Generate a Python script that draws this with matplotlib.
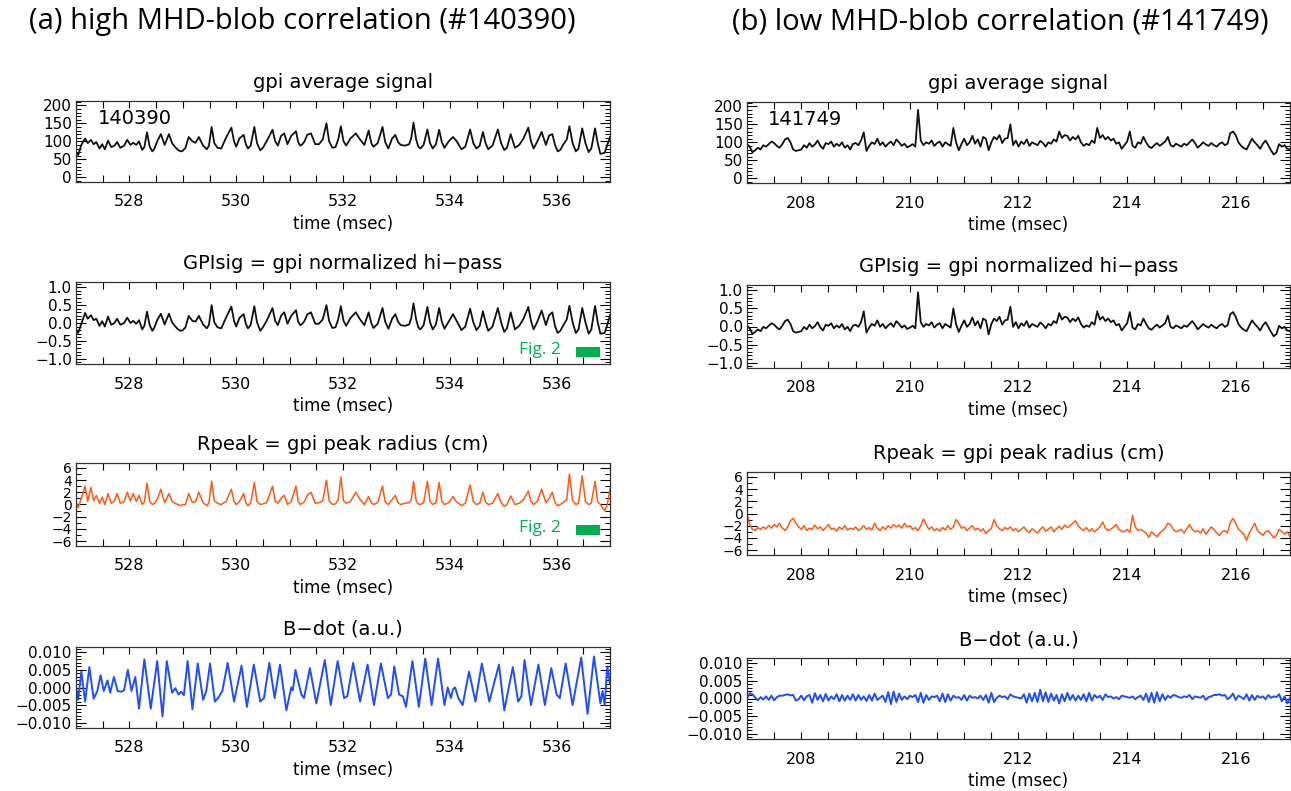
import numpy as np
import matplotlib.pyplot as plt
from matplotlib.ticker import MultipleLocator, FuncFormatter
from matplotlib.patches import Rectangle

# ---- (a) shot 140390, 527-537 ms, vertices ----
t_a = [527.00, 527.04, 527.10, 527.17, 527.22, 527.28, 527.33, 527.38, 527.44, 527.49,
       527.54, 527.60, 527.66, 527.72, 527.77, 527.83, 527.90, 527.96, 528.02, 528.07,
       528.13, 528.18, 528.24, 528.28, 528.33, 528.38, 528.43, 528.47, 528.52, 528.59,
       528.66, 528.74, 528.80, 528.85, 528.91, 528.96, 529.00, 529.05, 529.11, 529.18,
       529.24, 529.30, 529.38, 529.45, 529.49, 529.54, 529.59, 529.65, 529.72, 529.81,
       529.91, 529.96, 530.00, 530.06, 530.14, 530.18, 530.22, 530.27, 530.34, 530.39,
       530.45, 530.50, 530.57, 530.68, 530.73, 530.78, 530.84, 530.90, 530.96, 531.03,
       531.12, 531.16, 531.20, 531.24, 531.28, 531.33, 531.40, 531.48, 531.55, 531.62,
       531.69, 531.74, 531.80, 531.86, 531.91, 531.96, 532.01, 532.06, 532.14, 532.24,
       532.32, 532.40, 532.48, 532.53, 532.57, 532.65, 532.74, 532.79, 532.85, 532.92,
       532.98, 533.03, 533.08, 533.16, 533.24, 533.28, 533.32, 533.37, 533.41, 533.45,
       533.51, 533.58, 533.63, 533.68, 533.74, 533.80, 533.85, 533.90, 533.98, 534.06,
       534.12, 534.22, 534.29, 534.38, 534.44, 534.50, 534.56, 534.62, 534.67, 534.72,
       534.80, 534.90, 534.96, 535.02, 535.07, 535.14, 535.22, 535.30, 535.38, 535.47,
       535.52, 535.57, 535.64, 535.72, 535.80, 535.86, 535.92, 535.97, 536.02, 536.07,
       536.12, 536.19, 536.24, 536.30, 536.36, 536.41, 536.48, 536.54, 536.60, 536.65,
       536.72, 536.77, 536.82, 536.90, 536.95, 537.00]
gpi_a = [70, 62, 90, 108, 95, 104, 92, 98, 80, 92,
         78, 102, 84, 88, 98, 82, 88, 104, 90, 96,
         90, 100, 76, 84, 125, 85, 72, 80, 100, 120,
         90, 120, 95, 85, 76, 72, 74, 82, 112, 100,
         96, 112, 88, 78, 88, 140, 95, 82, 80, 110,
         138, 100, 85, 108, 118, 92, 80, 88, 140, 95,
         75, 82, 100, 132, 100, 88, 115, 122, 92, 115,
         128, 98, 88, 92, 100, 118, 122, 92, 92, 105,
         150, 100, 82, 84, 105, 142, 100, 88, 108, 122,
         105, 90, 130, 95, 85, 95, 140, 98, 80, 108,
         118, 98, 90, 88, 92, 110, 152, 105, 85, 80,
         90, 133, 95, 80, 92, 132, 98, 82, 100, 112,
         102, 78, 85, 133, 95, 80, 88, 126, 95, 78,
         88, 133, 95, 76, 82, 120, 82, 90, 108, 138,
         100, 80, 100, 126, 90, 116, 120, 90, 72, 76,
         90, 105, 142, 95, 72, 80, 136, 95, 70, 80,
         136, 95, 65, 68, 90, 112]
sig_a = [-0.22, -0.28, -0.02, 0.28, 0.12, 0.22, 0.08, 0.12, -0.08, 0.05,
         -0.10, 0.18, -0.05, 0.00, 0.12, -0.05, 0.00, 0.15, 0.00, 0.06,
         -0.02, 0.08, -0.18, -0.08, 0.32, -0.06, -0.22, -0.12, 0.08, 0.26,
         -0.04, 0.26, 0.02, -0.08, -0.18, -0.22, -0.20, -0.12, 0.20, 0.06,
         0.04, 0.20, -0.04, -0.15, -0.05, 0.50, 0.02, -0.12, -0.15, 0.15,
         0.46, 0.06, -0.10, 0.14, 0.25, -0.02, -0.15, -0.06, 0.47, 0.02,
         -0.22, -0.12, 0.06, 0.42, 0.06, -0.06, 0.20, 0.30, -0.02, 0.20,
         0.36, 0.04, -0.06, -0.02, 0.06, 0.24, 0.30, -0.02, -0.02, 0.10,
         0.50, 0.06, -0.14, -0.12, 0.10, 0.47, 0.06, -0.08, 0.14, 0.30,
         0.10, -0.06, 0.30, 0.00, -0.14, -0.02, 0.42, 0.04, -0.16, 0.12,
         0.25, 0.04, -0.06, -0.08, -0.04, 0.15, 0.55, 0.10, -0.12, -0.18,
         -0.06, 0.45, 0.02, -0.18, -0.04, 0.42, 0.04, -0.16, 0.04, 0.25,
         0.08, -0.20, -0.10, 0.40, 0.02, -0.20, -0.08, 0.33, 0.02, -0.22,
         -0.10, 0.42, 0.02, -0.25, -0.15, 0.30, -0.18, -0.08, 0.12, 0.45,
         0.06, -0.18, 0.04, 0.35, -0.06, 0.22, 0.30, -0.08, -0.28, -0.22,
         -0.08, 0.10, 0.48, 0.02, -0.28, -0.18, 0.42, 0.02, -0.30, -0.18,
         0.48, 0.02, -0.30, -0.28, -0.05, 0.22]
rpk_a = [0.5, -0.5, 1.0, 3.0, 0.5, 2.8, 0.6, 1.5, 0.2, 1.2,
         0.0, 1.8, 0.2, 0.6, 1.8, 0.2, 0.5, 2.0, 0.6, 1.8,
         0.5, 1.5, 0.0, 0.4, 3.5, 0.5, 0.0, 0.2, 0.8, 2.5,
         0.3, 1.8, 0.5, 0.2, 0.0, -0.2, 0.0, 0.0, 1.8, 0.3,
         0.5, 2.0, 0.3, -0.2, 0.3, 3.8, 0.6, 0.2, 0.0, 0.5,
         2.5, 0.5, 0.0, 0.5, 1.8, 0.3, -0.2, 0.2, 3.6, 0.5,
         0.0, 0.1, 0.3, 3.0, 0.5, 0.2, 1.0, 1.5, 0.0, 0.5,
         3.0, 0.5, 0.0, 0.2, 0.5, 1.5, 2.0, 0.2, 0.3, 0.6,
         4.0, 0.6, 0.0, 0.1, 0.8, 4.5, 0.6, 0.2, 0.5, 2.0,
         0.8, 0.0, 1.3, 0.3, 0.0, 0.3, 3.0, 0.4, 0.0, 0.8,
         1.5, 0.3, 0.0, 0.2, 0.3, 0.8, 3.8, 0.6, 0.1, 0.0,
         0.3, 3.8, 0.5, 0.0, 0.3, 3.6, 0.5, 0.0, 0.3, 1.3,
         0.5, -0.2, 0.2, 3.2, 0.5, 0.0, 0.2, 2.0, 0.4, 0.0,
         0.2, 1.8, 0.3, -0.3, 0.0, 1.4, 0.0, 0.2, 0.8, 2.2,
         0.5, 0.0, 0.5, 2.5, 0.3, 1.0, 2.0, 0.3, -0.2, 0.0,
         0.3, 0.8, 5.0, 0.6, 0.0, 0.2, 4.7, 0.5, 0.0, 0.2,
         3.8, 0.4, 0.0, -1.0, 0.0, 2.5]
t_bdot_a = [527.00, 527.04, 527.10, 527.17, 527.25, 527.33, 527.40, 527.46, 527.52, 527.59,
            527.64, 527.71, 527.78, 527.85, 527.90, 527.97, 528.04, 528.11, 528.18, 528.28,
            528.40, 528.52, 528.62, 528.70, 528.80, 528.86, 528.92, 528.97, 529.02, 529.09,
            529.18, 529.28, 529.38, 529.44, 529.51, 529.60, 529.66, 529.74, 529.84, 529.96,
            530.10, 530.20, 530.33, 530.45, 530.52, 530.62, 530.72, 530.82, 530.94, 531.03,
            531.06, 531.11, 531.22, 531.27, 531.38, 531.50, 531.66, 531.77, 531.90, 532.02,
            532.08, 532.19, 532.32, 532.46, 532.58, 532.71, 532.84, 532.90, 532.96, 533.05,
            533.12, 533.18, 533.30, 533.42, 533.54, 533.66, 533.78, 533.90, 533.96, 534.02,
            534.06, 534.10, 534.16, 534.24, 534.36, 534.48, 534.60, 534.74, 534.92, 535.02,
            535.18, 535.28, 535.34, 535.40, 535.52, 535.66, 535.78, 535.90, 536.00, 536.06,
            536.17, 536.30, 536.46, 536.58, 536.70, 536.82, 536.86, 536.90, 536.95, 537.00]
bdot_a = [0.0000, -0.0035, 0.0045, -0.0040, 0.0058, -0.0032, -0.0010, 0.0035, -0.0010, 0.0020,
          -0.0015, 0.0030, -0.0010, -0.0012, -0.0008, 0.0050, -0.0010, 0.0030, -0.0060, 0.0080,
          -0.0060, 0.0075, -0.0082, 0.0075, -0.0015, -0.0002, -0.0020, -0.0012, -0.0022, 0.0075,
          -0.0062, 0.0068, -0.0035, -0.0010, 0.0068, -0.0040, -0.0030, -0.0010, 0.0070, -0.0040,
          0.0062, -0.0055, 0.0065, -0.0040, -0.0030, 0.0070, -0.0030, 0.0065, -0.0065, 0.0000,
          -0.0008, 0.0050, -0.0020, -0.0030, 0.0055, -0.0045, 0.0078, -0.0050, 0.0075, -0.0030,
          -0.0025, 0.0070, -0.0040, 0.0065, -0.0050, 0.0068, -0.0030, -0.0020, 0.0060, -0.0020,
          -0.0025, -0.0055, 0.0075, -0.0055, 0.0082, -0.0050, 0.0082, -0.0050, 0.0000, -0.0030,
          -0.0005, 0.0000, -0.0030, -0.0050, 0.0045, -0.0040, 0.0068, -0.0040, 0.0065, -0.0065,
          0.0058, -0.0040, -0.0025, 0.0078, -0.0050, 0.0065, -0.0050, 0.0055, -0.0020, -0.0030,
          0.0068, -0.0050, 0.0085, -0.0075, 0.0088, -0.0045, -0.0010, -0.0050, 0.0060, 0.0010]

# ---- (b) shot 141749, 207-217 ms, values read every 0.05 ms ----
t_b = np.linspace(207, 217, 201)
gpi_b = [95, 88, 72, 78, 85, 80, 92, 88, 95, 102, 98, 90, 85, 95, 108, 112, 100, 80, 76, 78,
         80, 92, 85, 98, 88, 94, 105, 90, 82, 98, 95, 102, 88, 96, 90, 100, 85, 92, 80, 95,
         98, 92, 105, 128, 76, 90, 100, 95, 110, 92, 100, 88, 96, 102, 92, 108, 100, 90, 96, 86,
         90, 95, 88, 190, 105, 92, 100, 96, 105, 90, 98, 102, 88, 100, 95, 90, 140, 100, 78, 95,
         110, 92, 100, 118, 96, 108, 88, 115, 110, 78, 100, 115, 108, 120, 98, 110, 112, 150, 92, 105,
         88, 102, 95, 108, 90, 100, 96, 92, 104, 98, 88, 100, 96, 108, 102, 130, 112, 120, 118, 105,
         115, 108, 118, 100, 90, 96, 92, 105, 98, 140, 112, 120, 108, 115, 105, 110, 96, 100, 82, 92,
         102, 130, 90, 85, 100, 96, 115, 100, 88, 84, 92, 98, 90, 96, 102, 115, 92, 88, 96, 92,
         88, 96, 92, 100, 108, 98, 85, 92, 100, 94, 90, 98, 92, 88, 96, 100, 92, 96, 125, 130,
         120, 100, 90, 84, 80, 95, 110, 100, 92, 82, 96, 105, 92, 78, 66, 72, 95, 88, 92, 82,
         80]
sig_b = [0.02, -0.05, -0.21, -0.15, -0.08, -0.13, -0.01, -0.05, 0.02, 0.09,
         0.05, -0.03, -0.08, 0.02, 0.15, 0.19, 0.07, -0.13, -0.17, -0.15,
         -0.13, -0.01, -0.08, 0.05, -0.05, 0.01, 0.12, -0.03, -0.11, 0.05,
         0.02, 0.09, -0.05, 0.03, -0.03, 0.07, -0.08, -0.01, -0.13, 0.02,
         0.05, -0.01, 0.12, 0.42, -0.17, -0.03, 0.07, 0.02, 0.17, -0.01,
         0.07, -0.05, 0.03, 0.09, -0.01, 0.15, 0.07, -0.03, 0.03, -0.07,
         -0.03, 0.02, -0.05, 0.95, 0.12, -0.01, 0.07, 0.03, 0.12, -0.03,
         0.05, 0.09, -0.05, 0.07, 0.02, -0.03, 0.50, 0.07, -0.15, 0.02,
         0.17, -0.01, 0.07, 0.25, 0.03, 0.15, -0.05, 0.22, 0.17, -0.22,
         0.07, 0.22, 0.15, 0.27, 0.05, 0.17, 0.19, 0.55, -0.01, 0.12,
         -0.05, 0.09, 0.02, 0.15, -0.03, 0.07, 0.03, -0.01, 0.11, 0.05,
         -0.05, 0.07, 0.03, 0.15, 0.09, 0.37, 0.19, 0.27, 0.25, 0.12,
         0.22, 0.15, 0.25, 0.07, -0.03, 0.03, -0.01, 0.12, 0.05, 0.42,
         0.19, 0.27, 0.15, 0.22, 0.12, 0.17, 0.03, 0.07, -0.11, -0.01,
         0.09, 0.40, -0.03, -0.08, 0.07, 0.03, 0.22, 0.07, -0.05, -0.09,
         -0.01, 0.05, -0.03, 0.03, 0.09, 0.30, -0.01, -0.05, 0.03, -0.01,
         -0.05, 0.03, -0.01, 0.07, 0.15, 0.05, -0.08, -0.01, 0.07, 0.01,
         -0.03, 0.05, -0.01, -0.05, 0.03, 0.07, -0.01, 0.03, 0.34, 0.40,
         0.27, 0.07, -0.03, -0.09, -0.13, 0.02, 0.17, 0.07, -0.01, -0.11,
         0.03, 0.12, -0.01, -0.15, -0.27, -0.21, 0.02, -0.05, -0.01, -0.11,
         -0.13]
rpk_b = [0.0, -1.8, -2.6, -2.8, -2.3, -2.6, -2.2, -2.5, -2.0, -2.4,
         -1.8, -2.2, -1.6, -2.4, -2.8, -2.2, -1.2, -0.8, -1.6, -2.2,
         -2.6, -2.0, -2.8, -2.4, -2.6, -1.9, -2.5, -2.2, -2.8, -2.3,
         -1.8, -2.6, -2.4, -2.9, -2.2, -2.6, -2.0, -2.7, -2.4, -2.6,
         -2.2, -2.8, -2.5, -2.0, -2.6, -2.3, -2.7, -1.6, -2.4, -2.8,
         -2.2, -2.6, -2.0, -2.4, -1.8, -2.2, -1.9, -2.4, -1.6, -2.2,
         -2.0, -2.6, -2.3, -2.8, -2.0, -0.9, -1.8, -2.6, -2.2, -2.8,
         -2.5, -2.9, -2.3, -2.7, -2.0, -2.6, -2.2, -1.0, -1.6, -2.4,
         -2.2, -2.8, -2.4, -2.0, -2.7, -2.4, -2.9, -2.5, -3.3, -2.8,
         -2.4, -1.0, -2.0, -2.5, -2.8, -2.3, -2.6, -2.2, -2.8, -2.5,
         -3.0, -2.6, -2.2, -2.8, -3.1, -2.5, -2.9, -3.2, -2.6, -2.2,
         -2.9, -2.6, -2.2, -3.0, -2.5, -2.1, -2.6, -1.9, -2.3, -2.0,
         -1.6, -1.2, -2.0, -2.5, -2.8, -2.3, -2.9, -2.5, -3.0, -2.6,
         -2.2, -1.4, -2.4, -2.8, -2.6, -2.2, -1.8, -2.6, -2.9, -3.0,
         -2.6, -3.1, -0.3, -2.2, -2.8, -2.6, -2.9, -3.2, -3.9, -3.0,
         -3.4, -3.8, -3.2, -2.8, -2.4, -1.6, -1.8, -2.6, -3.0, -2.8,
         -2.6, -3.2, -2.5, -1.8, -2.6, -3.0, -2.8, -3.2, -2.5, -3.4,
         -2.8, -2.2, -2.6, -3.2, -3.6, -3.0, -2.8, -3.2, -1.5, -0.8,
         -1.6, -2.6, -3.0, -3.4, -4.4, -3.2, -2.4, -1.6, -2.8, -3.2,
         -3.6, -3.0, -2.8, -3.4, -4.0, -3.6, -2.6, -3.0, -3.4, -3.0,
         -3.8]
bdot_b = [0.0000, 0.0015, 0.0012, 0.0003, -0.0005, 0.0004, -0.0003, 0.0006, -0.0004, 0.0008,
          -0.0005, 0.0004, 0.0008, 0.0008, 0.0010, 0.0012, 0.0009, 0.0010, -0.0006, -0.0002,
          0.0008, -0.0005, 0.0006, 0.0010, -0.0012, 0.0015, -0.0004, 0.0010, -0.0008, 0.0013,
          -0.0006, 0.0006, -0.0002, 0.0012, -0.0008, 0.0010, -0.0006, 0.0008, -0.0004, 0.0012,
          -0.0006, 0.0010, -0.0004, 0.0006, -0.0007, 0.0010, -0.0006, 0.0014, -0.0004, 0.0002,
          0.0008, -0.0010, 0.0018, -0.0016, 0.0020, -0.0010, 0.0014, -0.0004, 0.0006, -0.0002,
          0.0008, 0.0004, 0.0010, -0.0010, 0.0016, -0.0012, 0.0010, -0.0004, 0.0006, 0.0004,
          0.0008, -0.0008, 0.0014, -0.0010, 0.0012, -0.0006, 0.0008, 0.0002, 0.0004, -0.0004,
          0.0010, -0.0006, 0.0008, 0.0002, 0.0004, 0.0000, 0.0008, -0.0004, 0.0010, -0.0012,
          0.0016, -0.0010, 0.0002, 0.0008, 0.0004, 0.0006, -0.0002, 0.0012, 0.0006, 0.0004,
          0.0002, 0.0000, 0.0012, -0.0012, 0.0014, -0.0008, 0.0016, -0.0010, 0.0025, -0.0008,
          0.0018, -0.0010, 0.0014, -0.0006, 0.0010, -0.0014, 0.0012, -0.0008, 0.0016, -0.0004,
          0.0010, -0.0006, 0.0008, -0.0004, 0.0012, -0.0008, 0.0016, -0.0006, 0.0010, 0.0002,
          0.0008, -0.0004, 0.0012, 0.0004, 0.0006, 0.0000, 0.0004, -0.0002, 0.0008, 0.0006,
          0.0004, 0.0002, 0.0006, -0.0002, 0.0004, 0.0008, -0.0004, 0.0014, -0.0010, 0.0016,
          -0.0012, 0.0018, -0.0008, 0.0012, -0.0004, 0.0008, 0.0002, 0.0010, 0.0008, 0.0004,
          0.0002, 0.0006, 0.0004, 0.0010, -0.0002, 0.0006, 0.0004, 0.0002, 0.0008, -0.0004,
          0.0004, 0.0006, 0.0010, 0.0010, 0.0012, 0.0008, 0.0010, -0.0002, 0.0004, 0.0014,
          -0.0004, 0.0008, 0.0004, -0.0002, 0.0012, -0.0006, 0.0010, -0.0004, 0.0008, 0.0002,
          0.0006, -0.0002, 0.0010, 0.0002, 0.0006, 0.0004, 0.0012, -0.0008, 0.0006, -0.0014,
          0.0002]

headers = ['(a) high MHD-blob correlation (#140390)', '(b) low MHD-blob correlation (#141749)']
titles = ['gpi average signal', 'GPIsig = gpi normalized hi\u2212pass',
          'Rpeak = gpi peak radius (cm)', 'B\u2212dot (a.u.)']
ylims = [(-13, 212), (-1.15, 1.15), (-6.8, 6.8), (-0.0115, 0.0115)]
yticks = [[0, 50, 100, 150, 200], [-1, -0.5, 0, 0.5, 1], [-6, -4, -2, 0, 2, 4, 6],
          [-0.01, -0.005, 0, 0.005, 0.01]]
yminor = [10, 0.1, 1, 0.001]
ydec = [0, 1, 0, 3]
ysize = [11, 11, 10, 11]
colors = ['#111111', '#111111', '#ff5a14', '#1f4dff']
widths = [1.3, 1.3, 1.1, 1.4]

# box positions in pixels (top, bottom) for each column
cajas_a = [(101, 182), (282, 364), (463, 546), (647, 728)]
cajas_b = [(102, 183), (285, 368), (472, 555), (658, 739)]
W, H = 1291, 791


def formato(dec):
    def f(v, pos):
        if abs(v) < 1e-9:
            v = 0.0
        return ('%.*f' % (dec, v)).replace('-', '\u2212')
    return FuncFormatter(f)


def dibujar_panel(ax, t, y, i, xlim):
    ax.plot(t, y, color=colors[i], lw=widths[i])
    ax.set_xlim(xlim)
    ax.set_ylim(ylims[i])
    ax.set_yticks(yticks[i])
    ax.yaxis.set_major_formatter(formato(ydec[i]))
    ax.yaxis.set_minor_locator(MultipleLocator(yminor[i]))
    ax.xaxis.set_major_locator(MultipleLocator(2))
    ax.xaxis.set_minor_locator(MultipleLocator(0.5))
    ax.xaxis.set_major_formatter(FuncFormatter(lambda v, p: '%d' % v))
    ax.tick_params(axis='x', which='both', direction='in', top=True, length=5, width=0.8,
                   labelsize=11.5, pad=9)
    ax.tick_params(axis='y', which='major', direction='in', right=True, length=7, width=0.8,
                   labelsize=ysize[i], pad=3)
    ax.tick_params(axis='y', which='minor', direction='in', right=True, length=3.5, width=0.7)
    for s in ax.spines.values():
        s.set_linewidth(0.9)
        s.set_color('#333333')
    ax.annotate(titles[i], xy=(0.5, 1), xycoords='axes fraction', xytext=(0, 13),
                textcoords='offset points', ha='center', va='center', fontsize=14)
    ax.annotate('time (msec)', xy=(0.5, 0), xycoords='axes fraction', xytext=(0, -30),
                textcoords='offset points', ha='center', va='center', fontsize=12)


fig = plt.figure(figsize=(W / 100, H / 100), dpi=100)

series_a = [gpi_a, sig_a, rpk_a, bdot_a]
series_b = [gpi_b, sig_b, rpk_b, bdot_b]
ejes_a = []
for i in range(4):
    top, bot = cajas_a[i]
    ax = fig.add_axes([76 / W, 1 - bot / H, 534 / W, (bot - top) / H])
    t = t_bdot_a if i == 3 else t_a
    dibujar_panel(ax, t, series_a[i], i, (527, 537))
    ejes_a.append(ax)
ejes_b = []
for i in range(4):
    top, bot = cajas_b[i]
    ax = fig.add_axes([747 / W, 1 - bot / H, 543 / W, (bot - top) / H])
    dibujar_panel(ax, t_b, series_b[i], i, (207, 217))
    ejes_b.append(ax)

# shot numbers inside the top panels
ejes_a[0].text(0.041, 0.79, '140390', transform=ejes_a[0].transAxes, fontsize=14, va='center')
ejes_b[0].text(0.039, 0.78, '141749', transform=ejes_b[0].transAxes, fontsize=14, va='center')

# green "Fig. 2" markers on panel (a)
verde = '#00b050'
ejes_a[1].text(535.3, -0.77, 'Fig. 2', color=verde, fontsize=12.5, family='Open Sans', va='center')
ejes_a[1].add_patch(Rectangle((536.37, -0.96), 0.44, 0.28, color=verde, lw=0))
ejes_a[2].text(535.3, -3.9, 'Fig. 2', color=verde, fontsize=12.5, family='Open Sans', va='center')
ejes_a[2].add_patch(Rectangle((536.37, -5.0), 0.44, 1.6, color=verde, lw=0))

fig.text(302 / W, 1 - 22 / H, headers[0], ha='center', va='center', fontsize=21, family='Open Sans')
fig.text(1000 / W, 1 - 22 / H, headers[1], ha='center', va='center', fontsize=21, family='Open Sans')

fig.savefig('out.png', dpi=100)
